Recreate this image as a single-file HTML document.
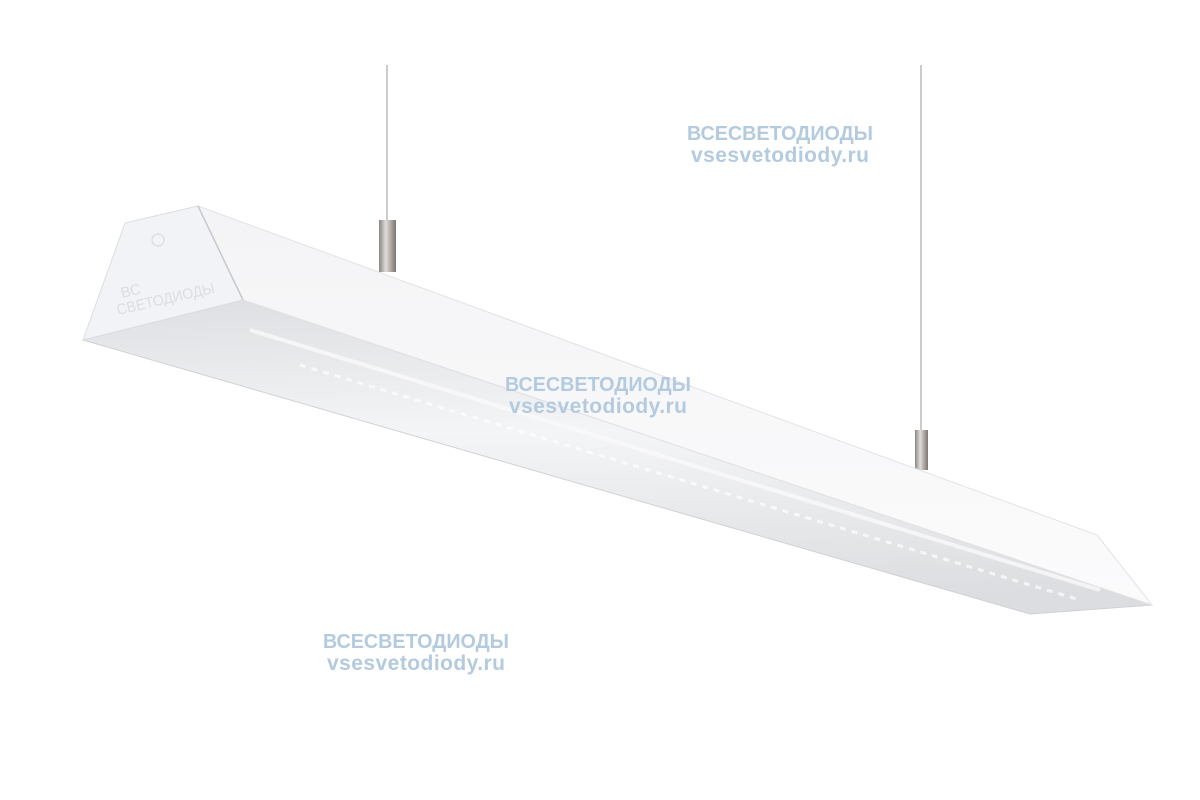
<!DOCTYPE html>
<html><head><meta charset="utf-8"><style>
html,body{margin:0;padding:0;background:#fff;width:1200px;height:800px;overflow:hidden}
</style></head><body>
<svg width="1200" height="800" viewBox="0 0 1200 800" xmlns="http://www.w3.org/2000/svg">
<defs>
<linearGradient id="dif" x1="0" y1="0" x2="0.08" y2="1">
<stop offset="0" stop-color="#dedfe2"/>
<stop offset="0.45" stop-color="#f4f5f7"/>
<stop offset="0.7" stop-color="#e9eaec"/>
<stop offset="1" stop-color="#dcdde0"/>
</linearGradient>
<linearGradient id="side" x1="0" y1="0" x2="0" y2="1">
<stop offset="0" stop-color="#f4f4f6"/>
<stop offset="1" stop-color="#fbfbfc"/>
</linearGradient>
<linearGradient id="tube" x1="0" y1="0" x2="1" y2="0">
<stop offset="0" stop-color="#8a8580"/>
<stop offset="0.4" stop-color="#e0dcd8"/>
<stop offset="1" stop-color="#7a7570"/>
</linearGradient>
</defs>
<line x1="387" y1="65" x2="387" y2="222" stroke="#9a9a9a" stroke-width="1"/>
<line x1="921" y1="65" x2="921" y2="432" stroke="#9a9a9a" stroke-width="1"/>
<rect x="379" y="220" width="17" height="52" fill="url(#tube)"/>
<rect x="915" y="430" width="13" height="40" fill="url(#tube)"/>
<polygon points="83,340 243,300 1152,605 1030,614" fill="url(#dif)" stroke="#d0d1d4" stroke-width="1"/>
<polygon points="198,206 1097,535 1152,605 243,300" fill="url(#side)" stroke="#e2e2e6" stroke-width="1"/>
<polygon points="83,340 125,223 198,206 243,300" fill="#f2f3f6" stroke="#dcdde2" stroke-width="1"/>
<line x1="198" y1="206" x2="243" y2="300" stroke="#c8c9ce" stroke-width="1.5"/>
<line x1="250" y1="330" x2="1100" y2="590" stroke="#fafafa" stroke-width="4" opacity="0.8"/>
<line x1="300" y1="365" x2="1080" y2="600" stroke="#ffffff" stroke-width="3" stroke-dasharray="6 6" opacity="0.7"/>
<circle cx="158" cy="240" r="6" fill="none" stroke="#d5d6da" stroke-width="1"/>
<text x="122" y="298" font-family="Liberation Sans,sans-serif" font-size="15" fill="#dcdde1" transform="rotate(-13 122 298)">ВС</text>
<text x="118" y="315" font-family="Liberation Sans,sans-serif" font-size="15" fill="#dcdde1" transform="rotate(-13 118 315)" textLength="100" lengthAdjust="spacingAndGlyphs">СВЕТОДИОДЫ</text>
<g font-family="Liberation Sans,sans-serif" font-weight="bold" font-size="21" fill="#b3cadf" text-anchor="middle">
<text x="780" y="140" font-size="20" textLength="186" lengthAdjust="spacingAndGlyphs">ВСЕСВЕТОДИОДЫ</text>
<text x="780" y="162" textLength="178" lengthAdjust="spacing">vsesvetodiody.ru</text>
<text x="598" y="391" font-size="20" textLength="186" lengthAdjust="spacingAndGlyphs">ВСЕСВЕТОДИОДЫ</text>
<text x="598" y="413" textLength="178" lengthAdjust="spacing">vsesvetodiody.ru</text>
<text x="416" y="648" font-size="20" textLength="186" lengthAdjust="spacingAndGlyphs">ВСЕСВЕТОДИОДЫ</text>
<text x="416" y="670" textLength="178" lengthAdjust="spacing">vsesvetodiody.ru</text>
</g>
</svg>
</body></html>
